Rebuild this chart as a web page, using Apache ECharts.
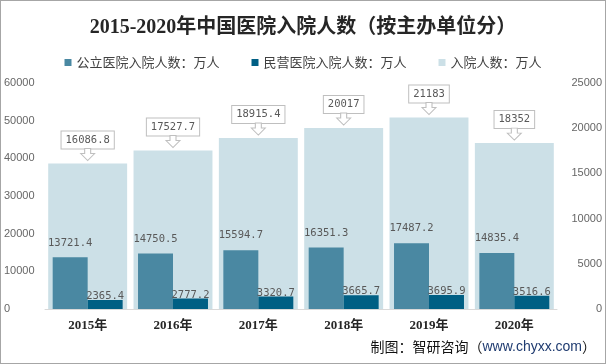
<!DOCTYPE html>
<html><head><meta charset="utf-8">
<script src="https://cdn.jsdelivr.net/npm/echarts@6/dist/echarts.min.js"></script>
<style>
html,body{margin:0;padding:0;background:#fff;}
#c{width:606px;height:364px;box-sizing:border-box;border:1px solid #a6a6a6;}
</style></head>
<body><div id="c"></div>
<script>
const categories = ['2015年','2016年','2017年','2018年','2019年','2020年'];
const publicVals = [13721.4, 14750.5, 15594.7, 16351.3, 17487.2, 14835.4];
const privateVals = [2365.4, 2777.2, 3320.7, 3665.7, 3695.9, 3516.6];
const totalVals = [16086.8, 17527.7, 18915.4, 20017, 21183, 18352];
const leftTicks = {min:0, max:60000, interval:10000};
const rightTicks = {min:0, max:25000, interval:5000};

const mono = "'DejaVu Sans Mono','Liberation Mono',monospace";
const chart = echarts.init(document.getElementById('c'));
chart.setOption({
  animation:false,
  title:[{
    text:'2015-2020年中国医院入院人数（按主办单位分）',
    left:'center', top:12,
    textStyle:{fontFamily:"'Liberation Serif','Noto Sans CJK SC',serif",fontWeight:'bold',fontSize:20,color:'#262626'}
  },{
    text:'{a|制图：智研咨询（}{b|www.chyxx.com}{a|）}',
    right:4, bottom:4,
    textStyle:{fontWeight:'normal', rich:{
      a:{fontFamily:"'Noto Sans CJK SC',sans-serif",fontSize:14,fontWeight:'normal',color:'#111'},
      b:{fontFamily:"'Liberation Sans',Arial,sans-serif",fontSize:14,fontWeight:'normal',color:'#1f3b70'}
    }}
  }],
  legend:{
    top:50, left:'center', itemWidth:7, itemHeight:7, itemGap:32, icon:'rect',
    textStyle:{fontFamily:"'Noto Sans CJK SC',sans-serif",fontSize:13,color:'#404040'},
    data:['公立医院入院人数：万人','民营医院入院人数：万人','入院人数：万人']
  },
  grid:{left:43, right:48, top:82, bottom:54},
  xAxis:[{
    type:'category', data:categories,
    axisTick:{show:false},
    axisLine:{lineStyle:{color:'#d9d9d9'}},
    axisLabel:{margin:10,fontFamily:"'Liberation Serif','Noto Sans CJK SC',serif",fontWeight:'bold',fontSize:13,color:'#262626'}
  },{
    type:'category', data:categories, show:false
  }],
  yAxis:[{
    type:'value', min:leftTicks.min, max:leftTicks.max, interval:leftTicks.interval,
    splitLine:{show:false}, axisLine:{show:false}, axisTick:{show:false},
    axisLabel:{align:'left', margin:41, formatter:v=>String(v), fontFamily:"'Liberation Sans',Arial,sans-serif", fontSize:11, color:'#666'}
  },{
    type:'value', min:rightTicks.min, max:rightTicks.max, interval:rightTicks.interval,
    splitLine:{show:false}, axisLine:{show:false}, axisTick:{show:false},
    axisLabel:{align:'right', margin:45, formatter:v=>String(v), fontFamily:"'Liberation Sans',Arial,sans-serif", fontSize:11, color:'#666'}
  }],
  series:[{
    name:'入院人数：万人', type:'bar', xAxisIndex:0, yAxisIndex:1,
    data:totalVals, barCategoryGap:'7.5%', z:1,
    itemStyle:{color:'#cce0e7'},
    label:{show:true, position:'top', distance:15, fontFamily:mono, fontSize:10.5, color:'#595959',
      backgroundColor:'#fff', borderColor:'#bfbfbf', borderWidth:1, padding:[3,4,3,4]},
    markPoint:{
      silent:true,
      symbol:'path://M4,0 L10,0 L10,5 L14,5 L7,12 L0,5 L4,5 Z',
      symbolSize:[14,12], symbolOffset:[0,-9],
      itemStyle:{color:'#fff', borderColor:'#bfbfbf', borderWidth:1},
      label:{show:false},
      data: totalVals.map((v,i)=>({coord:[categories[i], v]}))
    }
  },{
    name:'公立医院入院人数：万人', type:'bar', xAxisIndex:1, yAxisIndex:0,
    data:publicVals, barCategoryGap:'18%', barGap:'0%', z:3,
    itemStyle:{color:'#4a88a2'},
    label:{show:true, position:'top', distance:9, fontFamily:mono, fontSize:10.5, color:'#595959'}
  },{
    name:'民营医院入院人数：万人', type:'bar', xAxisIndex:1, yAxisIndex:0,
    data:privateVals, barCategoryGap:'18%', barGap:'0%', z:3,
    itemStyle:{color:'#005f84'},
    label:{show:true, position:'top', distance:-2, fontFamily:mono, fontSize:10.5, color:'#595959'}
  }]
});
</script></body></html>
